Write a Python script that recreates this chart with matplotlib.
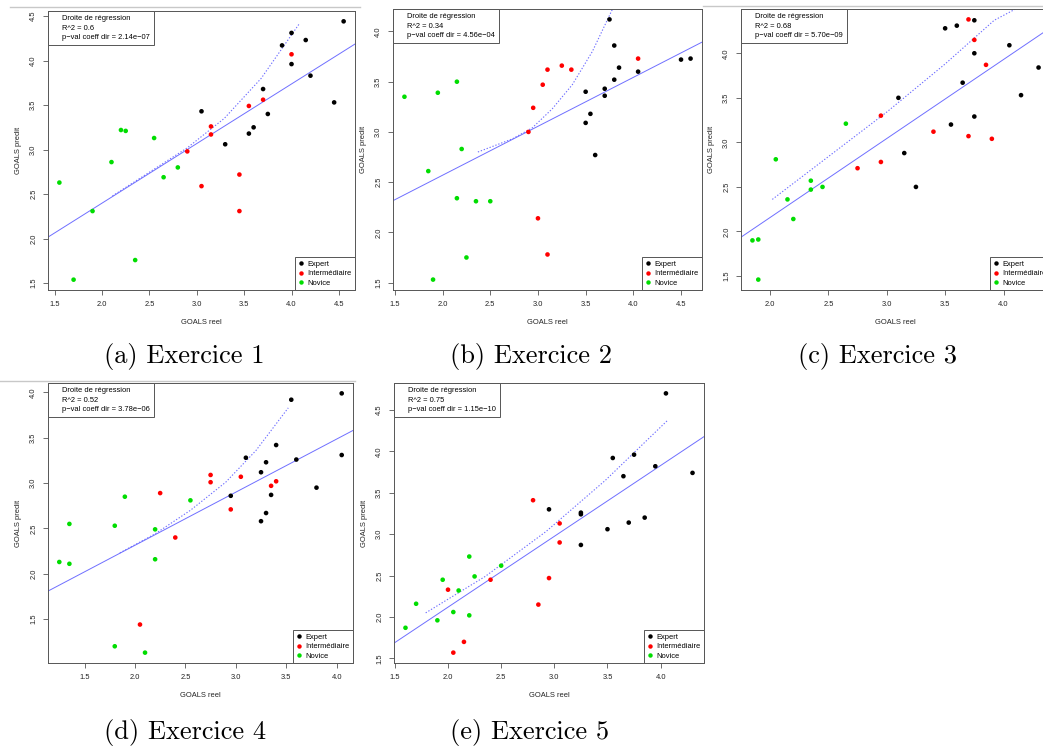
import numpy as np
import matplotlib.pyplot as plt
from matplotlib.lines import Line2D

plt.rcParams['font.family'] = ['Liberation Sans', 'DejaVu Sans']

W, H = 1043, 749

groups = ['Expert', 'Intermédiaire', 'Novice']
group_colors = ['black', '#ff0000', '#00dd00']

# Exercice 1
ex1_expert_x = [4.55, 4.0, 3.9, 4.15, 4.0, 4.2, 4.45, 3.7, 3.75, 3.6, 3.55, 3.05, 3.3]
ex1_expert_y = [4.44, 4.31, 4.17, 4.23, 3.96, 3.83, 3.53, 3.68, 3.40, 3.25, 3.18, 3.43, 3.06]
ex1_inter_x = [4.0, 3.7, 3.55, 3.15, 3.15, 2.9, 3.45, 3.05, 3.45]
ex1_inter_y = [4.07, 3.56, 3.49, 3.26, 3.17, 2.98, 2.72, 2.59, 2.31]
ex1_novice_x = [2.2, 2.25, 2.55, 2.1, 2.65, 2.8, 1.55, 1.9, 2.35, 1.7]
ex1_novice_y = [3.22, 3.21, 3.13, 2.86, 2.69, 2.80, 2.63, 2.31, 1.76, 1.54]
ex1_line = (1.061, 0.669)
ex1_curve_x = [2.11, 2.52, 2.90, 3.29, 3.68, 4.08]
ex1_curve_y = [2.48, 2.76, 3.02, 3.35, 3.80, 4.41]
ex1_stats = ('0.6', '2.14e−07')

# Exercice 2
ex2_expert_x = [3.75, 3.8, 3.85, 3.8, 3.7, 3.7, 3.5, 3.55, 3.5, 3.6, 4.05, 4.5, 4.6]
ex2_expert_y = [4.12, 3.86, 3.64, 3.52, 3.43, 3.36, 3.40, 3.18, 3.09, 2.77, 3.60, 3.72, 3.73]
ex2_inter_x = [4.05, 3.25, 3.1, 3.35, 3.05, 2.95, 2.9, 3.0, 3.1]
ex2_inter_y = [3.73, 3.66, 3.62, 3.62, 3.47, 3.24, 3.00, 2.14, 1.78]
ex2_novice_x = [1.6, 1.95, 2.15, 2.2, 1.85, 2.15, 2.35, 2.5, 2.25, 1.9]
ex2_novice_y = [3.35, 3.39, 3.50, 2.83, 2.61, 2.34, 2.31, 2.31, 1.75, 1.53]
ex2_line = (1.595, 0.487)
ex2_curve_x = [2.37, 2.73, 2.94, 3.15, 3.36, 3.57, 3.78]
ex2_curve_y = [2.80, 2.93, 3.04, 3.23, 3.47, 3.80, 4.22]
ex2_stats = ('0.34', '4.56e−04')

# Exercice 3
ex3_expert_x = [3.5, 3.6, 3.75, 3.75, 4.05, 4.3, 3.65, 4.15, 3.1, 3.75, 3.55, 3.15, 3.25]
ex3_expert_y = [4.28, 4.31, 4.37, 4.0, 4.09, 3.84, 3.67, 3.53, 3.50, 3.29, 3.20, 2.88, 2.50]
ex3_inter_x = [3.7, 3.75, 3.85, 2.95, 3.4, 3.7, 3.9, 2.95, 2.75]
ex3_inter_y = [4.38, 4.15, 3.87, 3.30, 3.12, 3.07, 3.04, 2.78, 2.71]
ex3_novice_x = [2.65, 2.05, 2.35, 2.35, 2.45, 2.15, 2.2, 1.85, 1.9, 1.9]
ex3_novice_y = [3.21, 2.81, 2.57, 2.47, 2.50, 2.36, 2.14, 1.90, 1.91, 1.46]
ex3_line = (0.382, 0.887)
ex3_curve_x = [2.02, 2.5, 3.0, 3.5, 3.92, 4.18]
ex3_curve_y = [2.36, 2.84, 3.34, 3.88, 4.37, 4.55]
ex3_stats = ('0.68', '5.70e−09')

# Exercice 4
ex4_expert_x = [4.05, 3.55, 3.4, 3.1, 3.3, 3.6, 4.05, 3.25, 3.8, 3.35, 2.95, 3.3, 3.25]
ex4_expert_y = [3.99, 3.92, 3.42, 3.28, 3.23, 3.26, 3.31, 3.12, 2.95, 2.87, 2.86, 2.67, 2.58]
ex4_inter_x = [2.75, 2.75, 3.05, 3.4, 3.35, 2.25, 2.95, 2.4, 2.05]
ex4_inter_y = [3.09, 3.01, 3.07, 3.02, 2.97, 2.89, 2.71, 2.40, 1.44]
ex4_novice_x = [1.9, 2.55, 1.35, 1.8, 2.2, 1.25, 1.35, 2.2, 1.8, 2.1]
ex4_novice_y = [2.85, 2.81, 2.55, 2.53, 2.49, 2.13, 2.11, 2.16, 1.20, 1.13]
ex4_line = (1.142, 0.586)
ex4_curve_x = [1.85, 2.2, 2.55, 2.9, 3.2, 3.52]
ex4_curve_y = [2.23, 2.44, 2.70, 3.01, 3.36, 3.83]
ex4_stats = ('0.52', '3.78e−06')

# Exercice 5
ex5_expert_x = [4.05, 3.55, 3.75, 3.95, 3.65, 4.3, 2.95, 3.25, 3.25, 3.85, 3.7, 3.5, 3.25]
ex5_expert_y = [4.70, 3.92, 3.96, 3.82, 3.70, 3.74, 3.30, 3.26, 3.24, 3.20, 3.14, 3.06, 2.87]
ex5_inter_x = [2.8, 3.05, 3.05, 2.4, 2.95, 2.0, 2.85, 2.15, 2.05]
ex5_inter_y = [3.41, 3.13, 2.90, 2.45, 2.47, 2.33, 2.15, 1.70, 1.57]
ex5_novice_x = [2.2, 2.5, 2.25, 1.95, 2.1, 1.7, 2.05, 1.9, 2.2, 1.6]
ex5_novice_y = [2.73, 2.62, 2.49, 2.45, 2.32, 2.16, 2.06, 1.96, 2.02, 1.87]
ex5_line = (0.409, 0.855)
ex5_curve_x = [1.79, 2.35, 2.92, 3.48, 4.07]
ex5_curve_y = [2.05, 2.49, 3.03, 3.65, 4.38]
ex5_stats = ('0.75', '1.15e−10')

captions = ['(a) Exercice 1', '(b) Exercice 2', '(c) Exercice 3',
            '(d) Exercice 4', '(e) Exercice 5']

# pixel boxes (left, top, right, bottom) and caption centres
boxes = [(48, 11, 355, 290), (393, 9, 702, 290), (741, 9, 1050, 290),
         (48, 383, 353, 663), (394, 383, 704, 663)]
cap_pos = [(184, 357), (531, 357), (877, 357), (185, 733), (530, 733)]

panels = [
    ([ex1_expert_x, ex1_inter_x, ex1_novice_x], [ex1_expert_y, ex1_inter_y, ex1_novice_y],
     ex1_line, ex1_curve_x, ex1_curve_y, ex1_stats),
    ([ex2_expert_x, ex2_inter_x, ex2_novice_x], [ex2_expert_y, ex2_inter_y, ex2_novice_y],
     ex2_line, ex2_curve_x, ex2_curve_y, ex2_stats),
    ([ex3_expert_x, ex3_inter_x, ex3_novice_x], [ex3_expert_y, ex3_inter_y, ex3_novice_y],
     ex3_line, ex3_curve_x, ex3_curve_y, ex3_stats),
    ([ex4_expert_x, ex4_inter_x, ex4_novice_x], [ex4_expert_y, ex4_inter_y, ex4_novice_y],
     ex4_line, ex4_curve_x, ex4_curve_y, ex4_stats),
    ([ex5_expert_x, ex5_inter_x, ex5_novice_x], [ex5_expert_y, ex5_inter_y, ex5_novice_y],
     ex5_line, ex5_curve_x, ex5_curve_y, ex5_stats),
]

fig = plt.figure(figsize=(W / 100, H / 100), dpi=100)
fs = 5.4
edge = '#555555'
blue = '#6f6fff'

for (xs, ys, line, cx, cy, stats), (l, t, r, b), cap, (capx, capy) in zip(panels, boxes, captions, cap_pos):
    ax = fig.add_axes([l / W, 1 - b / H, (r - l) / W, (b - t) / H])
    for x, y, col, lab in zip(xs, ys, group_colors, groups):
        ax.scatter(x, y, s=11, c=col, edgecolors='none', zorder=3)

    # R style limits (4% margin)
    allx = np.concatenate(xs)
    ally = np.concatenate(ys)
    dx = allx.max() - allx.min()
    dy = ally.max() - ally.min()
    ax.set_xlim(allx.min() - 0.04 * dx, allx.max() + 0.04 * dx)
    ax.set_ylim(ally.min() - 0.04 * dy, ally.max() + 0.04 * dy)

    ax.axline((0, line[0]), slope=line[1], color=blue, lw=0.7, zorder=2)
    ax.plot(cx, cy, color=blue, lw=0.8, ls=(0, (1.2, 1.6)), zorder=2)

    ax.xaxis.set_major_locator(plt.MultipleLocator(0.5))
    ax.yaxis.set_major_locator(plt.MultipleLocator(0.5))
    ax.xaxis.set_major_formatter(plt.FormatStrFormatter('%.1f'))
    ax.yaxis.set_major_formatter(plt.FormatStrFormatter('%.1f'))
    ax.tick_params(direction='out', length=3.3, width=0.6, color=edge,
                   labelsize=fs, pad=4.5, labelcolor='#222222')
    ax.tick_params(axis='y', labelrotation=90)
    for lab in ax.get_yticklabels():
        lab.set_va('center')
    for sp in ax.spines.values():
        sp.set_color(edge)
        sp.set_linewidth(0.7)
    ax.set_xlabel('GOALS reel', fontsize=fs, labelpad=8, color='#222222')
    ax.set_ylabel('GOALS predit', fontsize=fs, labelpad=6, color='#222222')

    # top-left box with regression info
    blank = [Line2D([], [], ls='none')] * 3
    leg1 = ax.legend(blank, ['Droite de régression', 'R^2 = ' + stats[0],
                             'p−val coeff dir = ' + stats[1]],
                     loc='upper left', borderaxespad=0, fontsize=fs,
                     handlelength=1.0, handletextpad=0.4, borderpad=0.5,
                     labelspacing=0.32, fancybox=False, edgecolor=edge,
                     framealpha=1)
    leg1.get_frame().set_linewidth(0.7)
    ax.add_artist(leg1)

    # bottom-right group legend
    hs = [Line2D([], [], ls='none', marker='o', ms=3.2, mfc=c, mec='none')
          for c in group_colors]
    leg2 = ax.legend(hs, groups, loc='lower right', borderaxespad=0,
                     fontsize=fs, handlelength=0.8, handletextpad=0.4,
                     borderpad=0.45, labelspacing=0.3, fancybox=False,
                     edgecolor=edge, framealpha=1)
    leg2.get_frame().set_linewidth(0.7)

    fig.text(capx / W, 1 - capy / H, cap, family='cmr10', fontsize=19,
             ha='center', va='center')

# faint borders of the pasted plot images
for x0, x1, y0 in [(10, 360, 7), (703, 1043, 6), (0, 355, 381)]:
    fig.add_artist(Line2D([x0 / W, x1 / W], [1 - y0 / H] * 2,
                          color='#c8c8c8', lw=1.0))

fig.savefig('out.png', dpi=100)
